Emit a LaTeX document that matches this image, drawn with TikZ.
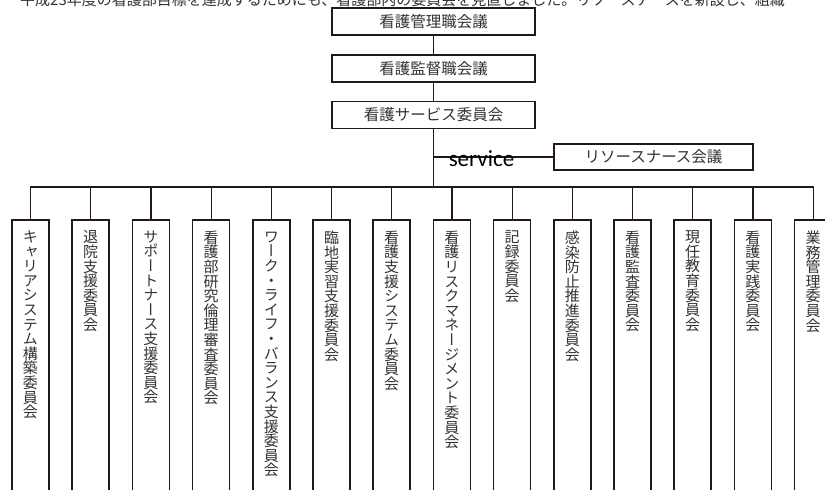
\documentclass[tikz,border=0pt]{standalone}
\usepackage{fontspec}
\newfontfamily\jp{Noto Sans CJK JP}
\newfontfamily\jpv[RawFeature=+vert]{Noto Sans CJK JP}
\newfontfamily\lat{Carlito}
\definecolor{ln}{HTML}{231815}
\definecolor{tx}{HTML}{333333}
\def\tate#1{\tateA#1\relax}
\def\tateA#1{\ifx\relax#1\else\hbox to 15pt{\hss\vrule height 11.5pt depth 3.1pt width 0pt #1\hss}\expandafter\tateA\fi}
\tikzset{
  topbox/.style={draw=ln, line width=1.6pt, minimum width=203pt, minimum height=27pt, inner sep=0pt,
    font=\jp\fontsize{15.5pt}{15.5pt}\selectfont, text=tx},
  rsbox/.style={draw=ln, line width=1.6pt, minimum width=199pt, minimum height=26pt, inner sep=0pt,
    font=\jp\fontsize{15.5pt}{15.5pt}\selectfont, text=tx},
  vbox/.style={draw=ln, line width=1.6pt, minimum width=37pt, inner sep=0pt, anchor=north, text=tx},
  conn/.style={draw=ln, line width=1.2pt}
}
\begin{document}
\begin{tikzpicture}[x=1pt,y=-1pt]
\useasboundingbox (0,0) rectangle (825,490);
\clip (0,0) rectangle (825,490);
\fill[white] (0,0) rectangle (825,490);
% clipped heading line at the very top
\node[anchor=base west, inner sep=0pt, text=tx, font=\jp\fontsize{15pt}{15pt}\selectfont] (head) at (20,5)
  {平成23年度の看護部目標を達成するためにも、看護部内の委員会を見直しました。リソースナースを新設し、組織};
% top boxes
\node[topbox] (t1) at (433.5,21.5) {看護管理職会議};
\node[topbox] (t2) at (433.5,68.5) {看護監督職会議};
\node[topbox] (t3) at (433.5,115) {看護サービス委員会};
\node[rsbox] (rs) at (653.5,157) {リソースナース会議};
\coordinate (bus) at (433.5,187);
% vertical committee boxes
\foreach \lab [count=\i] in {キャリアシステム構築委員会,退院支援委員会,サポートナース支援委員会,看護部研究倫理審査委員会,ワーク・ライフ・バランス支援委員会,臨地実習支援委員会,看護支援システム委員会,看護リスクマネージメント委員会,記録委員会,感染防止推進委員会,看護監査委員会,現任教育委員会,看護実践委員会,業務管理委員会}{
  \node[vbox] (b\i) at ({30.5+60.2*(\i-1)},219)
    {\vbox to 290pt{\jpv\fontsize{15pt}{14.6pt}\selectfont\baselineskip=14.6pt\lineskip=0pt\lineskiplimit=-100pt\vskip 11pt\expandafter\tate\expandafter{\lab}\vfil}};
}
% connectors
\draw[conn] (t1.south) -- (t2.north);
\draw[conn] (t2.south) -- (t3.north);
\draw[conn] (t3.south) -- (bus);
\coordinate (sv) at (t3.south |- rs.west);
\draw[conn] (sv) -- (rs.west);
\draw[conn] (b1.north) |- (bus) -| (b14.north);
\foreach \i in {2,...,13}{
  \draw[conn] (b\i.north) -- (b\i.north |- bus);
}
\node[anchor=base, inner sep=0pt, font=\lat\fontsize{23pt}{23pt}\selectfont, text=black] (svc) at (481.5,166) {service};
\end{tikzpicture}
\end{document}
